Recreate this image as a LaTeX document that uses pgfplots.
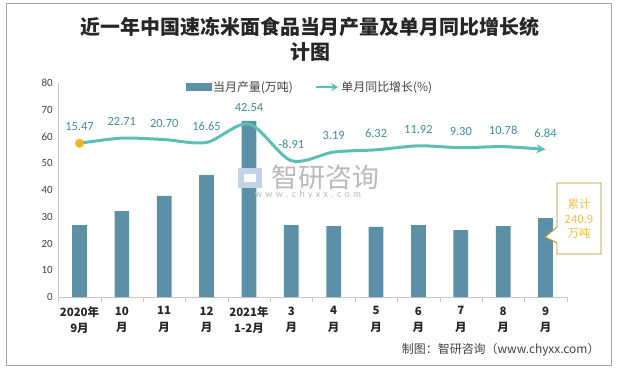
\documentclass[border=0pt]{standalone}
\usepackage{pgfplots}
\pgfplotsset{compat=1.18}
\usepackage{fontspec}
\setmainfont{Carlito}
\newfontfamily\cjk{Noto Sans CJK SC}
\usetikzlibrary{arrows.meta}
\definecolor{barc}{RGB}{91,144,166}
\definecolor{linec}{RGB}{93,190,182}
\definecolor{labelc}{RGB}{62,142,160}
\definecolor{markc}{RGB}{245,180,30}
\definecolor{axisgray}{RGB}{200,200,200}
\definecolor{ticktext}{RGB}{64,64,64}
\definecolor{bordergray}{RGB}{165,165,165}
\definecolor{calloutborder}{RGB}{190,140,40}
\definecolor{callouttext}{RGB}{245,190,70}
\definecolor{wmgray}{RGB}{185,185,185}
\definecolor{wmblue}{RGB}{195,210,230}

\pgfplotstableread{
x y
0 26.9
1 32.1
2 37.8
3 45.6
4 65.8
5 26.9
6 26.5
7 26.2
8 26.9
9 25.0
10 26.5
11 29.5
}\prodtable

\pgfplotstableread{
x y label
0 15.47 15.47
1 22.71 22.71
2 20.70 20.70
3 16.65 16.65
4 42.54 42.54
5 -8.91 -8.91
6 3.19 3.19
7 6.32 6.32
8 11.92 11.92
9 9.30 9.30
10 10.78 10.78
11 6.84 6.84
}\growtable

\begin{document}
\begin{tikzpicture}[x=1bp,y=1bp]
\path[use as bounding box] (0,0) rectangle (617,368);
\draw[bordergray, line width=1bp] (6.5,3) rectangle (611,364);

\node[font=\cjk\bfseries\fontsize{20}{25}\selectfont, align=center, text=black!85] at (310,328.5)
  {近一年中国速冻米面食品当月产量及单月同比增长统\\计图};

\begin{axis}[
  at={(58.3bp,71bp)}, anchor=south west,
  scale only axis, width=508.4bp, height=214bp,
  xmin=-0.5, xmax=11.5, ymin=0, ymax=80,
  ybar, bar width=14.7bp,
  axis x line=bottom, axis y line=left,
  axis line style={draw=axisgray, line width=0.8bp, -},
  ytick={0,10,...,80}, ytick style={draw=none},
  yticklabel style={font=\fontsize{11}{13}\selectfont, text=ticktext},
  /pgf/number format/assume math mode=true,
  xtick={0,...,11}, xtick style={draw=none},
  xticklabels={{2020年\\9月},{10\\月},{11\\月},{12\\月},{2021年\\1-2月},{3\\月},{4\\月},{5\\月},{6\\月},{7\\月},{8\\月},{9\\月}},
  xticklabel style={font=\cjk\bfseries\fontsize{11.5}{16.5}\selectfont, align=center, text=black!85, yshift=-4bp},
  extra x ticks={-0.5,0.5,...,11.5}, extra x tick labels={},
  extra x tick style={xtick style={draw=axisgray}, tick align=outside, major tick length=5bp},
]
\addplot[fill=barc, draw=none] table[x=x,y=y] {\prodtable};
\end{axis}

% watermark
\fill[wmblue] (238,180) rectangle (262,200);
\fill[white] (244,186) rectangle (256,194);
\node[font=\cjk\fontsize{27}{30}\selectfont, text=wmgray, anchor=west] at (268,191) {智研咨询};
\node[font=\fontsize{10}{12}\selectfont, text=wmgray] at (308,173) {w\,\,w\,\,w\,\,.\,\,c\,\,h\,\,y\,\,x\,\,x\,\,.\,\,c\,\,o\,\,m};

\begin{axis}[
  at={(58.3bp,71bp)}, anchor=south west,
  scale only axis, width=508.4bp, height=214bp,
  xmin=-0.5, xmax=11.5, ymin=-200, ymax=100,
  hide axis, clip=false,
  legend columns=2,
  legend style={draw=none, fill=none, at={(0.495,0.981)}, anchor=center,
    font=\cjk\fontsize{12}{14}\selectfont, text=ticktext,
    /tikz/every even column/.append style={column sep=20bp}},
]
\addlegendimage{legend image code/.code={\fill[barc] (0bp,-3.5bp) rectangle (25bp,3.5bp);}}
\addlegendentry{当月产量(万吨)}
\addplot[linec, line width=3bp, smooth, -{Stealth[length=9bp,width=9bp]},
  nodes near coords, point meta=explicit symbolic,
  every node near coord/.append style={font=\fontsize{12.5}{14}\selectfont, text=labelc, anchor=center, yshift=16.5bp},
  legend image code/.code={\draw[linec, line width=2.5bp, -{Stealth[length=7bp,width=8bp]}] (0bp,0bp) -- (22bp,0bp);}]
  table[x=x,y=y,meta=label] {\growtable};
\addlegendentry{单月同比增长(\%)}
\addplot[only marks, mark=*, mark size=4.2bp, markc, forget plot] coordinates {(0,15.47)};
\end{axis}

% callout
\draw[calloutborder, fill=white, line width=0.9bp] (557,185) -- (601,185) -- (601,114) -- (557,114) -- (557,125) -- (545,131) -- (557,141) -- cycle;
\node[align=center, font=\cjk\fontsize{11.5}{14.5}\selectfont, text=callouttext] at (579,149) {累计\\240.9\\万吨};

\node[anchor=east, font=\cjk\fontsize{12}{14}\selectfont, text=ticktext] at (603,18) {制图：智研咨询（www.chyxx.com）};
\end{tikzpicture}
\end{document}
